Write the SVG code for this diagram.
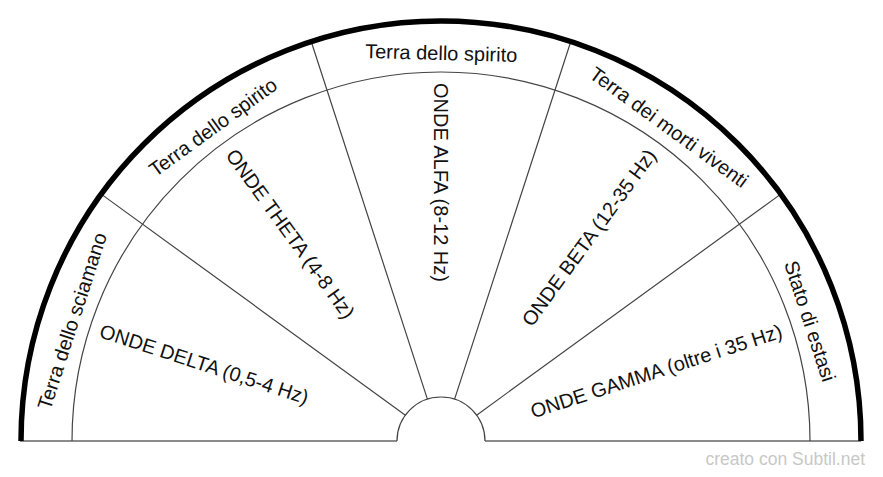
<svg xmlns="http://www.w3.org/2000/svg" width="883" height="477" viewBox="0 0 883 477">
<style>
.thin{fill:none;stroke:#444;stroke-width:1.2}
.base{fill:none;stroke:#666;stroke-width:1.5}
.outer{fill:none;stroke:#000;stroke-width:5.5}
.lbl{font-family:"Liberation Sans",Arial,sans-serif;font-size:20px;fill:#111}
.wm{font-family:"Liberation Sans",Arial,sans-serif;font-size:17.5px;fill:#c8c8c8}
</style>
<rect width="883" height="477" fill="#fff"/>
<g id="connectors">
<path class="base" d="M20,441 H397 M485,441 H861"/>
<path class="thin" d="M72,441 A369,369 0 0 1 810,441"/>
<path class="thin" d="M397,441 A44,44 0 0 1 485,441"/>
<path class="thin" d="M476.6,415.14 L780.79,194.13 M454.6,399.15 L570.79,41.56 M427.4,399.15 L311.21,41.56 M405.4,415.14 L101.21,194.13"/>
<path class="outer" d="M21,441 A420,420 0 0 1 861,441"/>
</g>
<g id="sector-delta">
<text class="lbl" text-anchor="middle" transform="translate(78.65,323.26) rotate(-72)">Terra dello sciamano</text>
<text class="lbl" text-anchor="start" dy="0.35em" transform="translate(100.52,330.37) rotate(18)">ONDE DELTA (0,5-4 Hz)</text>
</g>
<g id="sector-theta">
<text class="lbl" text-anchor="middle" transform="translate(217.05,132.76) rotate(-36)">Terra dello spirito</text>
<text class="lbl" text-anchor="start" dy="0.35em" transform="translate(230.57,151.37) rotate(54)">ONDE THETA (4-8 Hz)</text>
</g>
<g id="sector-alfa">
<text class="lbl" text-anchor="middle" transform="translate(441,60) rotate(1.5)">Terra dello spirito</text>
<text class="lbl" text-anchor="start" dy="0.35em" transform="translate(441,83) rotate(90)">ONDE ALFA (8-12 Hz)</text>
</g>
<g id="sector-beta">
<text class="lbl" text-anchor="middle" transform="translate(664.95,132.76) rotate(36)">Terra dei morti viventi</text>
<text class="lbl" text-anchor="end" dy="0.35em" transform="translate(651.43,151.37) rotate(-54)">ONDE BETA (12-35 Hz)</text>
</g>
<g id="sector-gamma">
<text class="lbl" text-anchor="middle" transform="translate(803.35,323.26) rotate(72)">Stato di estasi</text>
<text class="lbl" text-anchor="end" dy="0.35em" transform="translate(781.48,330.37) rotate(-18)">ONDE GAMMA (oltre i 35 Hz)</text>
</g>
<text class="wm" x="865" y="465" text-anchor="end">creato con Subtil.net</text>
</svg>
